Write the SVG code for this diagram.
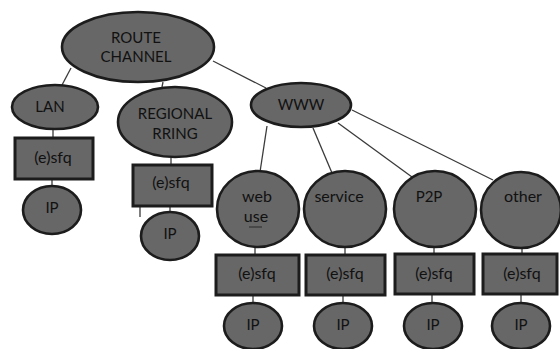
<svg xmlns="http://www.w3.org/2000/svg" width="560" height="349" viewBox="0 0 560 349">
<style>
.n{fill:#676767;stroke:#1c1c1c;stroke-width:2.6}
.b{fill:#676767;stroke:#1c1c1c;stroke-width:3}
.t{font-family:Lato,"Liberation Sans",Arial,sans-serif;font-size:15px;fill:#111;text-anchor:middle}
.q{font-size:16px}
.c line{stroke:#3a3a3a;stroke-width:1.3}
</style>
<rect width="560" height="349" fill="#fff"/>
<g class="c" id="connectors">
<line x1="71" y1="68" x2="62" y2="85"/>
<line x1="163" y1="82" x2="162" y2="87"/>
<line x1="213" y1="61" x2="266" y2="88"/>
<line x1="267" y1="126" x2="260" y2="172"/>
<line x1="313" y1="128" x2="332" y2="173"/>
<line x1="338" y1="123" x2="412" y2="177"/>
<line x1="352" y1="110" x2="493" y2="180"/>
<line x1="53" y1="130" x2="53" y2="137"/>
<line x1="52" y1="179" x2="52" y2="186"/>
<line x1="171" y1="158" x2="171" y2="165"/>
<line x1="170" y1="206" x2="170" y2="212"/>
<line x1="140" y1="206" x2="140" y2="217"/>
<line x1="255" y1="247" x2="255" y2="254"/>
<line x1="253" y1="296" x2="253" y2="303"/>
<line x1="345" y1="247" x2="345" y2="254"/>
<line x1="343" y1="295" x2="343" y2="303"/>
<line x1="434" y1="247" x2="434" y2="254"/>
<line x1="432" y1="294" x2="432" y2="303"/>
<line x1="522" y1="248" x2="522" y2="254"/>
<line x1="521" y1="294" x2="521" y2="303"/>
</g>
<g id="route"><ellipse class="n" cx="138" cy="47" rx="76" ry="35"/><text class="t" x="136" y="43">ROUTE</text><text class="t" x="136" y="62">CHANNEL</text></g>
<g id="lan"><ellipse class="n" cx="55" cy="107" rx="43" ry="22"/><text class="t" x="50" y="112">LAN</text></g>
<g id="regional"><ellipse class="n" cx="175" cy="122" rx="57" ry="35"/><text class="t" x="175" y="119">REGIONAL</text><text class="t" x="175" y="139">RRING</text></g>
<g id="www"><ellipse class="n" cx="301" cy="105" rx="50" ry="22"/><text class="t" x="301" y="110">WWW</text></g>
<g id="lan-sfq"><rect class="b" x="15" y="138" width="78" height="41"/><text class="t q" x="53" y="163">(e)sfq</text></g>
<g id="lan-ip"><ellipse class="n" cx="52" cy="210" rx="29" ry="24"/><text class="t" x="52" y="213">IP</text></g>
<g id="reg-sfq"><rect class="b" x="133" y="165" width="79" height="41"/><text class="t q" x="171" y="188">(e)sfq</text></g>
<g id="reg-ip"><ellipse class="n" cx="170" cy="236" rx="29" ry="24"/><text class="t" x="170" y="239">IP</text></g>
<g id="webuse"><ellipse class="n" cx="258" cy="209" rx="41" ry="38"/><text class="t q" x="257" y="202">web</text><text class="t q" x="256" y="222">use</text><line x1="249" y1="227" x2="262" y2="227" stroke="#2a2a2a" stroke-width="1"/></g>
<g id="service"><ellipse class="n" cx="345" cy="209" rx="41" ry="38"/><text class="t q" x="339" y="202">service</text></g>
<g id="p2p"><ellipse class="n" cx="435" cy="209" rx="41" ry="38"/><text class="t" x="429" y="202">P2P</text></g>
<g id="other"><ellipse class="n" cx="521" cy="210" rx="40" ry="38"/><text class="t q" x="523" y="202">other</text></g>
<g id="web-sfq"><rect class="b" x="216" y="255" width="83" height="40"/><text class="t q" x="257" y="279">(e)sfq</text></g>
<g id="service-sfq"><rect class="b" x="306" y="255" width="79" height="40"/><text class="t q" x="345" y="279">(e)sfq</text></g>
<g id="p2p-sfq"><rect class="b" x="395" y="254" width="79" height="40"/><text class="t q" x="434" y="279">(e)sfq</text></g>
<g id="other-sfq"><rect class="b" x="483" y="254" width="74" height="40"/><text class="t q" x="522" y="279">(e)sfq</text></g>
<g id="web-ip"><ellipse class="n" cx="253" cy="326" rx="29" ry="23"/><text class="t" x="253" y="330">IP</text></g>
<g id="service-ip"><ellipse class="n" cx="343" cy="326" rx="29" ry="23"/><text class="t" x="343" y="330">IP</text></g>
<g id="p2p-ip"><ellipse class="n" cx="433" cy="326" rx="29" ry="23"/><text class="t" x="433" y="330">IP</text></g>
<g id="other-ip"><ellipse class="n" cx="521" cy="326" rx="29" ry="23"/><text class="t" x="521" y="330">IP</text></g>
</svg>
